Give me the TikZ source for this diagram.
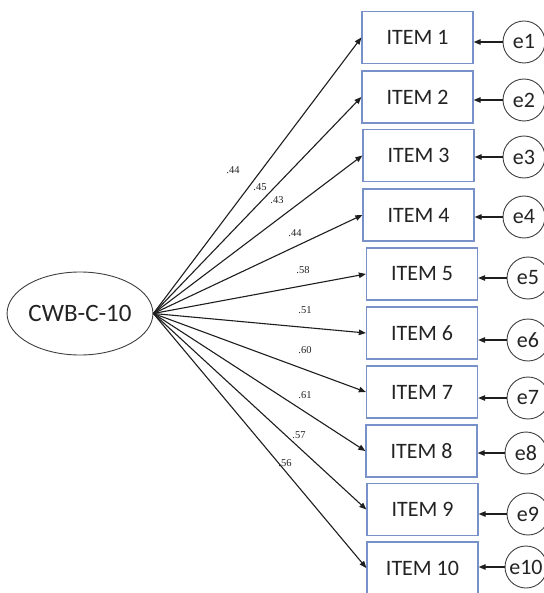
\documentclass[tikz,border=0pt]{standalone}
\usepackage{fontspec}
\setmainfont{Carlito}
\newfontfamily\tnr{Liberation Serif}
\usetikzlibrary{shapes.geometric,arrows.meta}
\definecolor{boxblue}{RGB}{120,145,200}
\definecolor{txt}{RGB}{35,35,35}
\definecolor{ln}{RGB}{30,30,30}
\tikzset{
  itembox/.style={draw=boxblue,line width=1.3pt,minimum width=111pt,minimum height=52pt,inner sep=0pt,
    font=\fontsize{22}{26}\selectfont,text=txt},
  errc/.style={circle,draw=ln!85,line width=0.9pt,minimum size=42pt,inner sep=0pt,
    font=\fontsize{22}{26}\selectfont,text=txt},
  latent/.style={ellipse,draw=ln!85,line width=0.9pt,minimum width=134pt,minimum height=83pt,inner sep=0pt,
    font=\fontsize{25}{30}\selectfont,text=txt},
  load/.style={draw=ln,line width=1.1pt,-{Triangle[length=7pt,width=5.5pt]}},
  coef/.style={font=\tnr\fontsize{10.5}{12}\selectfont,text=txt,inner sep=0pt}
}
\begin{document}
\begin{tikzpicture}[x=1pt,y=-1pt]
\useasboundingbox[fill=white] (0,0) rectangle (543,593);
\node[latent] (cwb) at (80,313.5) {CWB-C-10};
\node[itembox] (i1) at (417.5,37.5) {ITEM 1};
\node[itembox] (i2) at (417.5,97) {ITEM 2};
\node[itembox] (i3) at (418.5,155.5) {ITEM 3};
\node[itembox] (i4) at (418.5,215) {ITEM 4};
\node[itembox] (i5) at (422,274) {ITEM 5};
\node[itembox] (i6) at (422,333) {ITEM 6};
\node[itembox] (i7) at (422,392) {ITEM 7};
\node[itembox] (i8) at (421.5,451) {ITEM 8};
\node[itembox] (i9) at (422.5,509.5) {ITEM 9};
\node[itembox] (i10) at (422.5,568) {ITEM 10};
\node[errc] (e1) at (524,42) {e1};
\node[errc] (e2) at (524,100) {e2};
\node[errc] (e3) at (524,157) {e3};
\node[errc] (e4) at (524,217) {e4};
\node[errc] (e5) at (528,278) {e5};
\node[errc] (e6) at (528,340) {e6};
\node[errc] (e7) at (528,398) {e7};
\node[errc] (e8) at (526,453) {e8};
\node[errc] (e9) at (528,514) {e9};
\node[errc] (e10) at (526,567) {e10};
\foreach \i in {1,...,10}{
  \draw[load] (cwb.east) -- (i\i.west);
  \draw[load] (e\i.west) -- (e\i.west -| i\i.east);
}
\node[coef] (c1) at (233,170) {.44};
\node[coef] (c2) at (260,187) {.45};
\node[coef] (c3) at (277,200) {.43};
\node[coef] (c4) at (295,233) {.44};
\node[coef] (c5) at (303,270) {.58};
\node[coef] (c6) at (305,310) {.51};
\node[coef] (c7) at (305,350) {.60};
\node[coef] (c8) at (305,395) {.61};
\node[coef] (c9) at (299,435) {.57};
\node[coef] (c10) at (285,463) {.56};
\end{tikzpicture}
\end{document}
